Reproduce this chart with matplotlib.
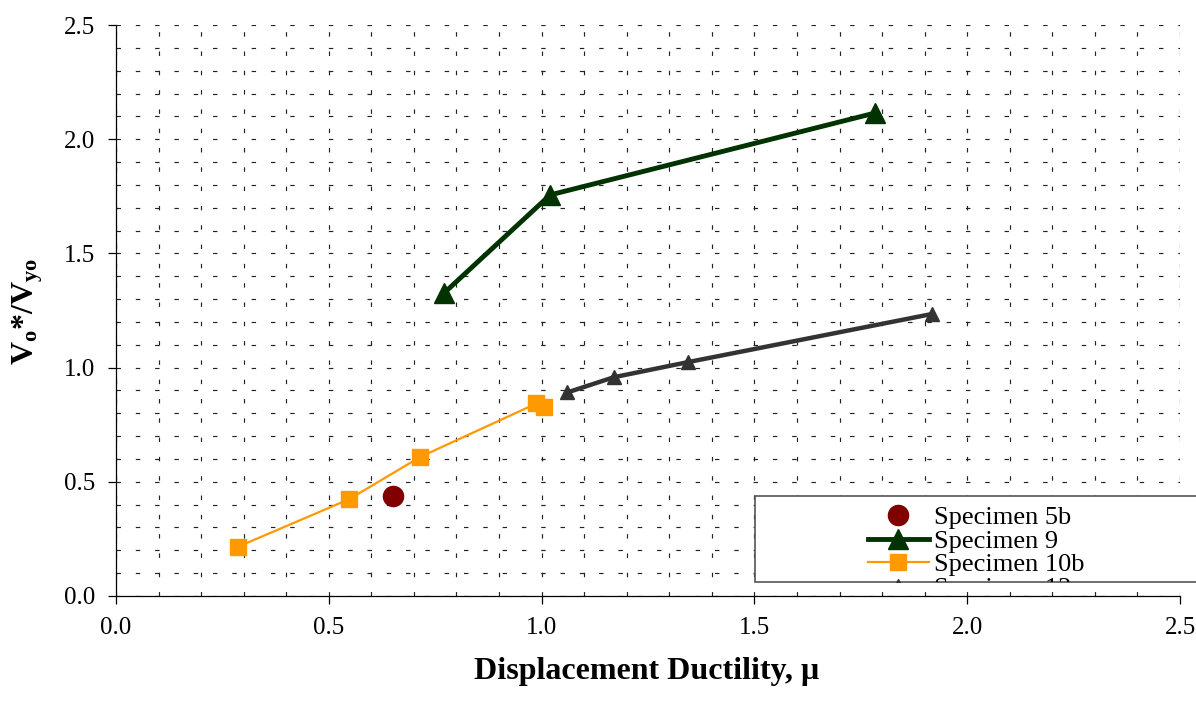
import matplotlib
matplotlib.use("Agg")
import matplotlib.pyplot as plt
from matplotlib.patches import Rectangle
from matplotlib.lines import Line2D
from matplotlib.transforms import Bbox, TransformedBbox
import numpy as np

plt.rcParams['font.family'] = ['Liberation Serif', 'DejaVu Serif']
plt.rcParams['mathtext.fontset'] = 'custom'
plt.rcParams['mathtext.rm'] = 'Liberation Serif'
plt.rcParams['mathtext.bf'] = 'Liberation Serif:bold'
plt.rcParams['lines.scale_dashes'] = False

# data
s5b_x = [0.652]
s5b_y = [0.436]

s9_x = [0.770, 1.020, 1.784]
s9_y = [1.325, 1.756, 2.115]

s10b_x = [0.287, 0.548, 0.715, 0.988, 1.005]
s10b_y = [0.216, 0.424, 0.609, 0.843, 0.826]

s12_x = [1.060, 1.170, 1.344, 1.918]
s12_y = [0.891, 0.958, 1.024, 1.235]

labels = ['Specimen 5b', 'Specimen 9', 'Specimen 10b', 'Specimen 12']
major_ticks = [0.0, 0.5, 1.0, 1.5, 2.0, 2.5]
tick_labels = ['0.0', '0.5', '1.0', '1.5', '2.0', '2.5']

fig = plt.figure(figsize=(11.96, 7.06), dpi=100)
ax = fig.add_axes([116 / 1196, 1 - 596 / 706, 1064 / 1196, 571 / 706])

ax.plot(s5b_x, s5b_y, linestyle='none', marker='o', ms=14.5,
        color='#800000', mec='#800000', zorder=4)
ax.plot(s9_x, s9_y, color='#003300', lw=3.5, marker='^', ms=14.5,
        mec='#003300', zorder=3)
ax.plot(s10b_x, s10b_y, color='#FF9900', lw=1.6, marker='s', ms=11.5,
        mec='#FF9900', zorder=3)
ax.plot(s12_x, s12_y, color='#333333', lw=3.2, marker='^', ms=10.5,
        mec='#333333', zorder=3)

ax.set_xlim(0, 2.5)
ax.set_ylim(0, 2.5)
ax.set_xticks(major_ticks)
ax.set_xticklabels(tick_labels)
ax.set_yticks(major_ticks)
ax.set_yticklabels(tick_labels)
ax.set_xticks(np.arange(0, 2.51, 0.1), minor=True)
ax.set_yticks(np.arange(0, 2.51, 0.1), minor=True)
ax.tick_params(which='major', direction='out', length=6, width=0.9,
               labelsize=18, pad=9)
ax.tick_params(which='minor', length=0)
ax.grid(True, which='both', color='#222222', lw=0.85, linestyle=(0, (3.2, 10.7)))
ax.set_axisbelow(True)

for side in ['top', 'right']:
    ax.spines[side].set_visible(False)
for side in ['left', 'bottom']:
    ax.spines[side].set_linewidth(0.9)

fig.text(647 / 1196, 1 - 672 / 706, 'Displacement Ductility, μ',
         fontsize=23, fontweight='bold', ha='center', va='center')
fig.text(28 / 1196, 1 - 311 / 706, r'$\mathbf{V_o}$*/$\mathbf{V_{yo}}$',
         fontsize=23, fontweight='bold', rotation=90, ha='center', va='center')

# legend box (cut off at the bottom like the original)
box_bounds = (755 / 1196, 1 - 582 / 706, 0.40, 86 / 706)
box = Rectangle(box_bounds[:2], box_bounds[2], box_bounds[3],
                transform=fig.transFigure, facecolor='white',
                edgecolor='#555555', lw=1.2, zorder=2)
fig.patches.append(box)

handles = [
    Line2D([], [], linestyle='none', marker='o', ms=14.5, color='#800000'),
    Line2D([], [], color='#003300', lw=3.5, marker='^', ms=14.5),
    Line2D([], [], color='#FF9900', lw=1.6, marker='s', ms=11.5),
    Line2D([], [], color='#333333', lw=3.2, marker='^', ms=10.5),
]
leg = fig.legend(handles, labels, loc='upper left',
                 bbox_to_anchor=(868 / 1196, 1 - 506 / 706),
                 frameon=False, fontsize=19, borderpad=0, borderaxespad=0,
                 handlelength=2.3, handletextpad=0.2, labelspacing=0.0,
                 numpoints=1)
leg.set_zorder(3)
clip = TransformedBbox(Bbox.from_bounds(*box_bounds), fig.transFigure)
for art in leg.findobj():
    art.set_clip_box(clip)
    art.set_clip_on(True)

fig.savefig('out.png', dpi=100)
